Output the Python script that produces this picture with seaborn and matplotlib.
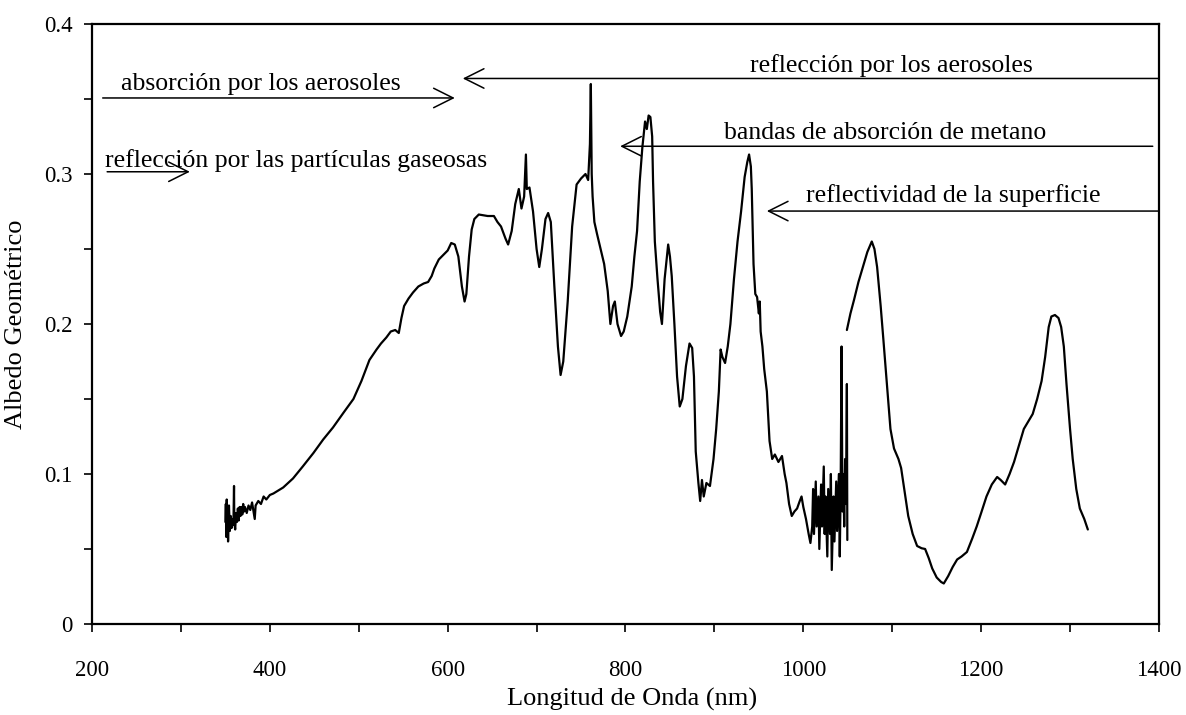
import matplotlib
matplotlib.use("Agg")
import matplotlib.pyplot as plt
from matplotlib.ticker import MultipleLocator
import numpy as np
import pandas as pd
import seaborn as sns

# Visible / near-IR spectrum (nm, geometric albedo)
wl_visible = [
    350, 350.5, 351, 351.5, 352, 352.5, 353, 354, 355, 356, 357, 358, 359, 359.7, 360,
    361, 362, 363, 364, 365, 366, 367, 368, 369, 370, 371, 372, 374, 376, 378,
    380, 383, 384, 387, 390, 393, 396, 400, 404, 415, 426, 437, 449, 460, 471,
    483, 494, 503, 512, 520, 525, 531, 536, 541, 545, 548, 551, 556, 561, 567,
    573, 578, 582, 585, 590, 595, 600, 604, 608, 612, 616, 619, 621, 624, 627,
    630, 635, 645, 652, 656, 660, 665, 668, 672, 676, 680, 683, 686, 688, 689,
    692, 696, 700, 703, 706, 710, 713, 716, 720, 724, 727, 730, 735, 740, 745,
    750, 755, 758, 760, 761, 762, 763, 765, 768, 772, 776, 780, 783, 786, 788,
    791, 795, 798, 802, 807, 810, 813, 816, 819, 822, 824, 826, 828, 830, 831,
    833, 836, 839, 841, 844, 848, 850, 852, 855, 858, 861, 864, 868, 872, 875,
    877, 879, 882, 884, 886, 888, 891, 895, 899, 902, 905, 907, 909, 912, 915,
    918, 922, 926, 930, 934, 937, 939, 941, 942, 944, 946, 948, 950, 951, 952,
    954, 956, 959, 962, 965, 968, 972, 976, 979, 981, 984, 987, 990, 993, 996,
    998, 1000, 1003, 1006, 1008, 1010, 1011, 1012, 1014, 1015, 1017, 1018, 1020, 1021, 1023,
    1024, 1025, 1027, 1028, 1030, 1031, 1032, 1034, 1035, 1037, 1038, 1040, 1041, 1042, 1043,
    1044, 1045, 1046, 1047, 1048, 1049, 1049.5,
]
alb_visible = [
    0.068, 0.080, 0.058, 0.083, 0.060, 0.075, 0.055, 0.079, 0.062, 0.072, 0.064, 0.070, 0.066, 0.092, 0.068,
    0.063, 0.074, 0.068, 0.077, 0.069, 0.078, 0.072, 0.078, 0.073, 0.080, 0.075, 0.078, 0.074, 0.079, 0.076,
    0.081, 0.070, 0.079, 0.082, 0.080, 0.085, 0.083, 0.086, 0.087, 0.091, 0.097, 0.105, 0.114, 0.123, 0.131,
    0.141, 0.150, 0.162, 0.176, 0.183, 0.187, 0.191, 0.195, 0.196, 0.194, 0.204, 0.212, 0.217, 0.221, 0.225,
    0.227, 0.228, 0.232, 0.237, 0.243, 0.246, 0.249, 0.254, 0.253, 0.245, 0.225, 0.215, 0.220, 0.245, 0.263,
    0.270, 0.273, 0.272, 0.272, 0.268, 0.265, 0.257, 0.253, 0.262, 0.280, 0.290, 0.277, 0.285, 0.313, 0.290,
    0.291, 0.275, 0.250, 0.238, 0.250, 0.270, 0.274, 0.268, 0.225, 0.185, 0.166, 0.175, 0.215, 0.265, 0.293,
    0.297, 0.300, 0.296, 0.320, 0.360, 0.300, 0.285, 0.268, 0.260, 0.250, 0.240, 0.222, 0.200, 0.212, 0.215,
    0.200, 0.192, 0.195, 0.205, 0.225, 0.245, 0.262, 0.295, 0.318, 0.335, 0.330, 0.339, 0.338, 0.325, 0.295,
    0.255, 0.230, 0.208, 0.200, 0.230, 0.253, 0.245, 0.232, 0.200, 0.165, 0.145, 0.150, 0.172, 0.187, 0.184,
    0.165, 0.115, 0.094, 0.082, 0.096, 0.085, 0.094, 0.092, 0.110, 0.130, 0.155, 0.183, 0.178, 0.174, 0.185,
    0.200, 0.230, 0.255, 0.275, 0.298, 0.308, 0.313, 0.305, 0.290, 0.240, 0.220, 0.218, 0.207, 0.215, 0.195,
    0.185, 0.170, 0.155, 0.122, 0.110, 0.113, 0.108, 0.112, 0.100, 0.094, 0.080, 0.072, 0.075, 0.077, 0.082,
    0.085, 0.078, 0.070, 0.060, 0.054, 0.065, 0.090, 0.060, 0.095, 0.065, 0.085, 0.050, 0.093, 0.065, 0.105,
    0.060, 0.085, 0.045, 0.090, 0.060, 0.100, 0.036, 0.085, 0.055, 0.095, 0.062, 0.100, 0.045, 0.090, 0.185,
    0.075, 0.100, 0.065, 0.110, 0.080, 0.160, 0.056,
]

# Infrared spectrum (nm, geometric albedo)
wl_ir = [
    1049, 1053, 1057, 1062, 1068, 1072, 1077, 1080, 1083, 1087, 1090, 1094, 1098, 1102, 1107,
    1110, 1114, 1118, 1123, 1128, 1133, 1137, 1141, 1145, 1150, 1155, 1158, 1163, 1168, 1173,
    1178, 1184, 1190, 1195, 1200, 1206, 1212, 1218, 1222, 1227, 1232, 1237, 1243, 1248, 1253,
    1258, 1263, 1268, 1272, 1276, 1279, 1283, 1287, 1290, 1293, 1296, 1300, 1303, 1307, 1311,
    1316, 1320,
]
alb_ir = [
    0.196, 0.207, 0.216, 0.228, 0.240, 0.248, 0.255, 0.250, 0.238, 0.212, 0.190, 0.160, 0.130, 0.117, 0.110,
    0.104, 0.088, 0.072, 0.060, 0.052, 0.0505, 0.050, 0.044, 0.037, 0.031, 0.028, 0.027, 0.032, 0.038, 0.043,
    0.045, 0.048, 0.057, 0.065, 0.074, 0.085, 0.093, 0.098, 0.096, 0.093, 0.100, 0.108, 0.120, 0.130, 0.135,
    0.140, 0.150, 0.162, 0.178, 0.198, 0.205, 0.206, 0.204, 0.198, 0.185, 0.160, 0.130, 0.110, 0.090, 0.077,
    0.070, 0.063,
]

x_ticks = [200, 400, 600, 800, 1000, 1200, 1400]
x_tick_labels = ["200", "400", "600", "800", "1000", "1200", "1400"]
y_ticks = [0, 0.1, 0.2, 0.3, 0.4]
y_tick_labels = ["0", "0.1", "0.2", "0.3", "0.4"]

# Process annotations: label, text anchor (x, y), arrow tail, arrow head
labels = [
    "absorción por los aerosoles",
    "reflección por los aerosoles",
    "bandas de absorción de metano",
    "reflectividad de la superficie",
    "reflección por las partículas gaseosas",
]
label_pos = [(233, 0.356), (940, 0.368), (911, 0.3235), (1003, 0.2815), (215, 0.3048)]
arrow_tail = [(212, 0.3507), (1400, 0.3637), (1393, 0.3185), (1400, 0.2753), (217, 0.3015)]
arrow_head = [(608, 0.3507), (617, 0.3637), (794, 0.3185), (959, 0.2753), (310, 0.3015)]

sns.set_theme(style="ticks")
plt.rcParams["font.family"] = ["Liberation Serif", "DejaVu Serif"]
plt.rcParams["text.color"] = "black"

fig = plt.figure(figsize=(11.86, 7.15), dpi=100)
ax = fig.add_axes([0.0776, 0.1273, 0.8996, 0.8391])

vis = pd.DataFrame({"wl": wl_visible, "alb": alb_visible})
ir = pd.DataFrame({"wl": wl_ir, "alb": alb_ir})
for df in (vis, ir):
    sns.lineplot(data=df, x="wl", y="alb", color="black", linewidth=1.6,
                 estimator=None, sort=False, ax=ax)

ax.set_xlim(200, 1400)
ax.set_ylim(0, 0.4)
ax.set_xticks(x_ticks)
ax.set_xticklabels(x_tick_labels)
ax.set_yticks(y_ticks)
ax.set_yticklabels(y_tick_labels)
ax.xaxis.set_minor_locator(MultipleLocator(100))
ax.yaxis.set_minor_locator(MultipleLocator(0.05))
ax.tick_params(axis="both", which="both", direction="out", length=6, width=1.2,
               colors="black", labelsize=16.5)
ax.tick_params(axis="x", which="major", pad=20)
ax.tick_params(axis="y", which="major", pad=8)
for s in ax.spines.values():
    s.set_visible(True)
    s.set_linewidth(1.6)
    s.set_color("black")

ax.set_xlabel("")
ax.set_ylabel("Albedo Geométrico", fontsize=19, labelpad=12, color="black")
fig.text(0.533, 0.006, "Longitud de Onda (nm)", fontsize=19, ha="center",
         va="bottom", color="black")

for text, (tx, ty), tail, head in zip(labels, label_pos, arrow_tail, arrow_head):
    ax.text(tx, ty, text, fontsize=18.5, ha="left", va="baseline", color="black")
    ax.annotate("", xy=head, xytext=tail,
                arrowprops=dict(arrowstyle="->,head_length=1.4,head_width=0.7",
                                color="black", lw=1.1, shrinkA=0, shrinkB=0,
                                mutation_scale=10))

fig.savefig("out.png", dpi=100, facecolor="white")
